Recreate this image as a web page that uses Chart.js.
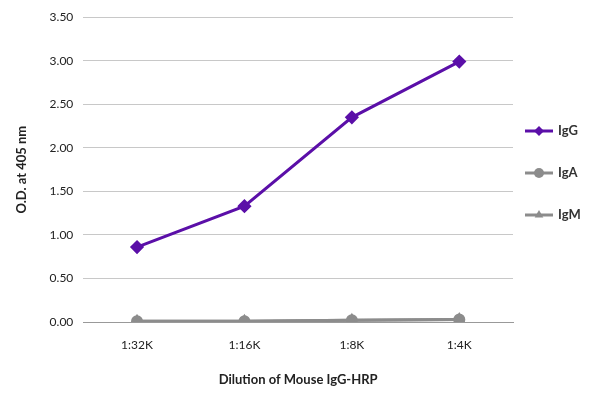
<!DOCTYPE html>
<html>
<head>
<meta charset="utf-8">
<script src="https://cdn.jsdelivr.net/npm/chart.js@4"></script>
<style>
  html, body { margin: 0; padding: 0; background: #fff; }
  #wrap { width: 600px; height: 406px; }
</style>
</head>
<body>
<div id="wrap"><canvas id="c"></canvas></div>
<script>
const dilutions = ['1:32K', '1:16K', '1:8K', '1:4K'];
const igG = [0.86, 1.33, 2.35, 2.99];
const igA = [0.01, 0.01, 0.02, 0.03];
const igM = [0.01, 0.01, 0.02, 0.03];

const font = 'Lato, "Open Sans", sans-serif';

const series = (label, data, color, style) => ({
  label, data,
  borderColor: color,
  backgroundColor: color,
  borderWidth: 3,
  pointStyle: style,
  pointRadius: style === 'rectRot' ? 5 : 4.5,
  tension: 0,
  fill: false
});

// legend: line with marker, stacked on the right
const sideLegend = {
  id: 'sideLegend',
  afterDraw(chart) {
    const ctx = chart.ctx;
    const ys = [131, 173, 215];
    chart.data.datasets.forEach((d, i) => {
      const y = ys[i], x0 = 525, x1 = 553;
      ctx.save();
      ctx.strokeStyle = d.borderColor;
      ctx.lineWidth = 3;
      ctx.beginPath(); ctx.moveTo(x0, y); ctx.lineTo(x1, y); ctx.stroke();
      ctx.fillStyle = d.borderColor;
      Chart.helpers.drawPoint(ctx, { pointStyle: d.pointStyle, radius: 5, rotation: 0, borderWidth: 0 }, (x0 + x1) / 2, y);
      ctx.fillStyle = '#333';
      ctx.font = '700 13px ' + font;
      ctx.textBaseline = 'middle';
      ctx.fillText(d.label, 558, y);
      ctx.restore();
    });
  }
};

new Chart(document.getElementById('c').getContext('2d'), {
  type: 'line',
  data: {
    labels: dilutions,
    datasets: [
      series('IgG', igG, '#5b0fa8', 'rectRot'),
      series('IgA', igA, '#8c8c8c', 'circle'),
      series('IgM', igM, '#8c8c8c', 'triangle')
    ]
  },
  options: {
    responsive: true,
    maintainAspectRatio: false,
    animation: false,
    layout: { padding: { top: 10, right: 87, left: 10, bottom: 14 } },
    plugins: {
      tooltip: { enabled: false },
      legend: { display: false }
    },
    scales: {
      x: {
        offset: true,
        grid: { display: false },
        border: { color: '#999' },
        ticks: { color: '#222', font: { family: font, size: 12 }, padding: 8 },
        title: { display: true, text: 'Dilution of Mouse IgG-HRP', color: '#222',
                 padding: { top: 12 },
                 font: { family: font, size: 13, weight: '700' } }
      },
      y: {
        min: 0, max: 3.5,
        ticks: { stepSize: 0.5, color: '#222', font: { family: font, size: 12 }, padding: 10,
                 callback: v => v.toFixed(2) },
        grid: { color: '#c8c8c8', drawTicks: false },
        border: { display: false },
        title: { display: true, text: 'O.D. at 405 nm', color: '#222',
                 padding: { bottom: 10 },
                 font: { family: font, size: 13, weight: '700' } }
      }
    }
  },
  plugins: [sideLegend]
});
</script>
</body>
</html>
